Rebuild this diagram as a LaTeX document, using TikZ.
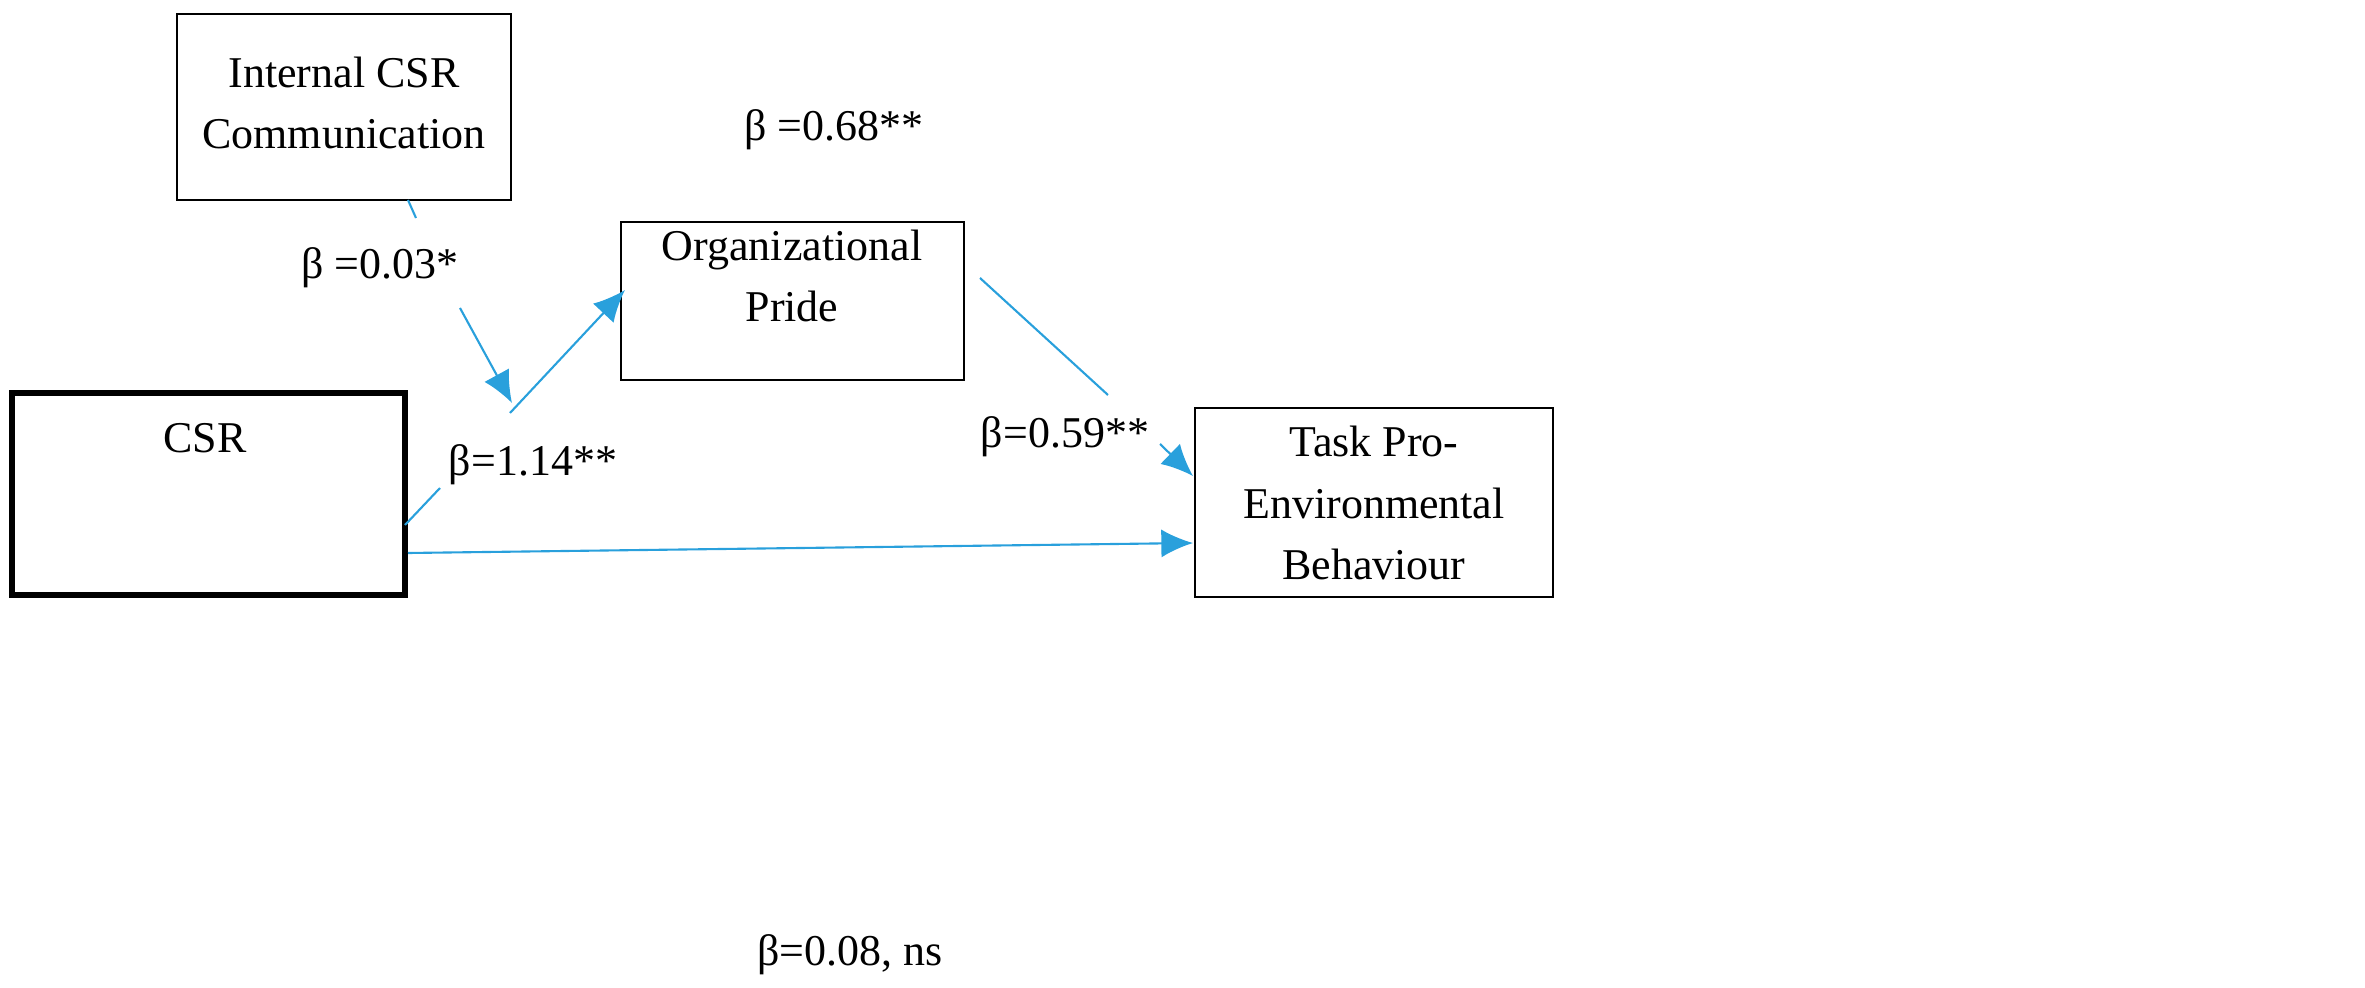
\documentclass[tikz,border=0pt]{standalone}
\usepackage{fontspec}
\setmainfont{Liberation Serif}
\usetikzlibrary{arrows.meta}
\definecolor{cblue}{RGB}{41,160,220}
\begin{document}
\begin{tikzpicture}[x=0.01cm,y=-0.01cm,
  txt/.style={align=center,font=\fontsize{12.5}{17.5}\selectfont},
  conn/.style={draw=cblue,line width=0.6pt},
  arr/.style={conn,-{Latex[length=9pt,width=8pt]}},
  lab/.style={inner sep=2pt,font=\fontsize{12.5}{16}\selectfont}]
\useasboundingbox (0,0) rectangle (2365,988);
\draw[line width=0.8pt] (177,14) rectangle (511,200);
\node[txt] (icc) at (344,103) {Internal CSR\\Communication};
\draw[line width=0.8pt] (621,222) rectangle (964,380);
\node[txt] (op) at (792,276) {Organizational\\Pride};
\draw[line width=1.6pt] (12,393) rectangle (405,595);
\node[txt] (csr) at (205,438) {CSR};
\draw[line width=0.8pt] (1195,408) rectangle (1553,597);
\node[txt] (tpb) at (1374,503) {Task Pro-\\Environmental\\Behaviour};
\coordinate (csrA) at (405,525);
\coordinate (g1a) at (440,488);
\coordinate (g1b) at (510,413);
\coordinate (opA) at (625,290);
\coordinate (iccb) at (408,200);
\coordinate (g2a) at (416,218);
\coordinate (g2b) at (460,308);
\coordinate (mod) at (512,403);
\coordinate (opB) at (980,278);
\coordinate (g3a) at (1108,395);
\coordinate (g3b) at (1160,444);
\coordinate (tpbA) at (1193,476);
\coordinate (csrB) at (408,553);
\coordinate (tpbB) at (1193,543);
\draw[conn] (csrA) -- (g1a);
\draw[arr] (g1b) -- (opA);
\draw[conn] (iccb) -- (g2a);
\draw[arr] (g2b) -- (mod);
\draw[conn] (opB) -- (g3a);
\draw[arr] (g3b) -- (tpbA);
\draw[arr] (csrB) -- (tpbB);
\node[lab] at (380,268) {β =0.03*};
\node[lab] at (533,465) {β=1.14**};
\node[lab] at (1065,437) {β=0.59**};
\node[lab] at (834,130) {β =0.68**};
\node[lab] at (850,955) {β=0.08, ns};
\end{tikzpicture}
\end{document}
